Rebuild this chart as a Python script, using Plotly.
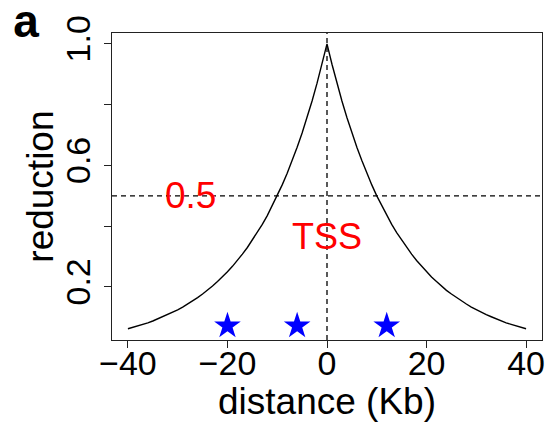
import plotly.graph_objects as go

# distance from TSS (Kb), right half of the curve; the left half mirrors it
half_dist = list(range(0, 41))
half_reduction = [1.000, 0.933, 0.871, 0.812, 0.758, 0.707, 0.660, 0.616, 0.574, 0.536,
                  0.500, 0.467, 0.435, 0.406, 0.379, 0.354, 0.330, 0.308, 0.287, 0.268,
                  0.250, 0.233, 0.218, 0.203, 0.189, 0.177, 0.165, 0.154, 0.144, 0.134,
                  0.125, 0.117, 0.109, 0.102, 0.095, 0.088, 0.082, 0.077, 0.072, 0.067,
                  0.0625]

distance = [-d for d in reversed(half_dist[1:])] + half_dist
reduction = list(reversed(half_reduction[1:])) + half_reduction

# starred sites
star_x = [-20, -6, 12]
star_y = [0.072, 0.072, 0.072]

half_level = 0.5
tss_pos = 0

x_ticks = [-40, -20, 0, 20, 40]
x_ticktext = ["\u221240", "\u221220", "0", "20", "40"]
y_ticks = [0.2, 0.4, 0.6, 0.8, 1.0]
y_ticktext = ["0.2", "", "0.6", "", "1.0"]

FONT = "Liberation Sans, Arial, Helvetica, sans-serif"

fig = go.Figure()

fig.add_trace(go.Scatter(x=distance, y=reduction, mode="lines",
                         line=dict(color="black", width=1.4), showlegend=False))
fig.add_trace(go.Scatter(x=star_x, y=star_y, mode="markers",
                         marker=dict(symbol="star", size=20, color="blue", line=dict(width=0)),
                         showlegend=False))

# dashed guide lines
fig.add_hline(y=half_level, line=dict(color="black", width=1.3, dash="5px,4px"))
fig.add_vline(x=tss_pos, line=dict(color="black", width=1.3, dash="5px,4px"))

fig.add_annotation(x=-27.5, y=half_level, text="0.5", showarrow=False,
                   font=dict(color="red", size=37, family=FONT))
fig.add_annotation(x=tss_pos, y=0.365, text="TSS", showarrow=False,
                   font=dict(color="red", size=36, family=FONT))

# axis titles
fig.add_annotation(xref="x", yref="paper", x=0, y=-0.199, text="distance (Kb)",
                   showarrow=False, yanchor="middle",
                   font=dict(color="black", size=37, family=FONT))
fig.add_annotation(xref="paper", yref="paper", x=-0.167, y=0.5, text="reduction",
                   showarrow=False, textangle=-90, xanchor="center",
                   font=dict(color="black", size=37, family=FONT))

fig.update_xaxes(range=[-43.2, 43.2], tickvals=x_ticks, ticktext=x_ticktext,
                 showgrid=False, zeroline=False, showline=True, mirror=True,
                 linecolor="#222", linewidth=1, ticks="outside", ticklen=7,
                 tickcolor="#222", tickfont=dict(size=34, color="black", family=FONT),
                 ticklabelstandoff=-14, automargin=False)
fig.update_yaxes(range=[0.0255, 1.036], tickvals=y_ticks, ticktext=y_ticktext,
                 tickangle=-90, showgrid=False, zeroline=False, showline=True, mirror=True,
                 linecolor="#222", linewidth=1, ticks="outside", ticklen=7,
                 tickcolor="#222", tickfont=dict(size=34, color="black", family=FONT),
                 automargin=False)

# panel letter
fig.update_layout(title=dict(text="<b>a</b>", x=26 / 548, xanchor="center",
                             y=1 - 21 / 425, yanchor="middle",
                             font=dict(color="black", size=46, family=FONT)))

fig.update_layout(width=548, height=425, plot_bgcolor="white", paper_bgcolor="white",
                  margin=dict(l=112, r=6, t=33, b=85), showlegend=False)

fig.write_html("out.html", config={"displayModeBar": False},
               post_script="document.body.style.margin='0';")
